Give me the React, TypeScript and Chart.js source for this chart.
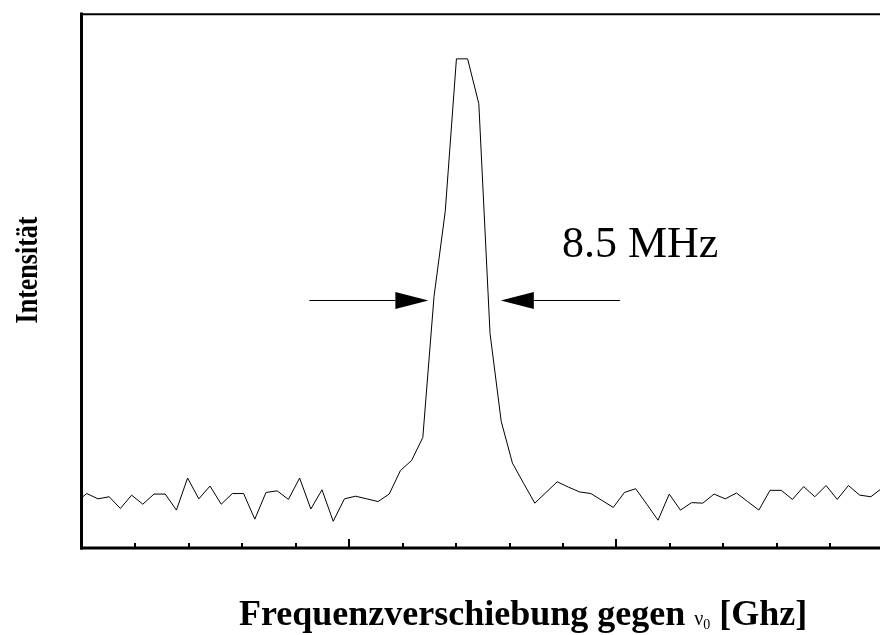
import React, { useEffect, useRef } from "react";
import { Chart, registerables } from "chart.js";

Chart.register(...registerables);

// Sampling grid of the scan (in units of the x-axis minor ticks)
const SAMPLE_FIRST_INDEX = -1;
const SAMPLE_X0 = 0.0898;
const SAMPLE_DX = 0.2096;

// Measured intensity (arbitrary units, 0..100)
const intensity: number[] = [
  8.5, 10.2, 9.2, 9.6, 7.4, 9.9, 8.2, 10.1, 10.1, 7.1, 13.1, 9.2, 11.6, 8.2, 10.2,
  10.2, 5.4, 10.4, 10.7, 9.1, 13.1, 7.3, 10.9, 5.0, 9.2, 9.7, 9.2, 8.7, 10.1, 14.5,
  16.4, 20.7, 47.1, 63.0, 91.6, 91.6, 83.2, 40.2, 23.7, 15.9, 12.1, 8.4, 10.4, 12.4,
  11.4, 10.5, 10.2, 8.9, 7.6, 10.4, 11.1, 8.2, 5.2, 10.1, 7.1, 8.5, 8.4, 10.1, 9.2,
  10.3, 8.7, 7.1, 10.8, 10.8, 9.1, 11.5, 9.6, 11.7, 9.1, 11.7, 9.9, 9.6, 11.2,
];

const xTicks: number[] = [1, 2, 3, 4, 5, 6, 7, 8, 9, 10, 11, 12, 13, 14];
const majorTicks: number[] = [5, 10];

const X_MIN = 0;
const X_MAX = 14.933;
const Y_MIN = 0;
const Y_MAX = 100;

const fwhmLabel = "8.5 MHz";
const fwhmLeft = { from: 4.255, to: 6.482, y: 46.4 };
const fwhmRight = { from: 10.07, to: 7.837, y: 46.4 };
const fwhmLabelPos = { x: 8.98, y: 54.55 };

const yTitle = "Intensität";
const xTitleMain = "Frequenzverschiebung gegen ";
const xTitleSym = "ν";
const xTitleSub = "0";
const xTitleEnd = " [Ghz]";

const SERIF = '"Liberation Serif", "Times New Roman", serif';

const decorPlugin = {
  id: "decor",
  afterDraw(chart: any) {
    const { ctx, chartArea } = chart;
    const xs = chart.scales.x;
    const ys = chart.scales.y;
    const L = chartArea.left;
    const R = chartArea.right;
    const T = chartArea.top;
    const B = chartArea.bottom;
    ctx.save();
    ctx.strokeStyle = "#000";
    ctx.fillStyle = "#000";
    ctx.lineCap = "butt";

    // frame: left, bottom, top
    ctx.lineWidth = 3;
    ctx.beginPath();
    ctx.moveTo(L - 0.5, T - 1.5);
    ctx.lineTo(L - 0.5, B + 1.5);
    ctx.stroke();
    ctx.beginPath();
    ctx.moveTo(L - 2, B);
    ctx.lineTo(R + 2, B);
    ctx.stroke();
    ctx.lineWidth = 2;
    ctx.beginPath();
    ctx.moveTo(L - 2, T + 0.2);
    ctx.lineTo(R + 2, T + 0.2);
    ctx.stroke();

    // inward ticks
    ctx.lineWidth = 2;
    xTicks.forEach((v) => {
      const px = Math.round(xs.getPixelForValue(v));
      const len = majorTicks.includes(v) ? 9 : 5;
      ctx.beginPath();
      ctx.moveTo(px, B);
      ctx.lineTo(px, B - len);
      ctx.stroke();
    });

    // FWHM arrows
    const drawArrow = (from: number, to: number, yv: number) => {
      const x1 = xs.getPixelForValue(from);
      const x2 = xs.getPixelForValue(to);
      const py = Math.round(ys.getPixelForValue(yv)) + 0.5;
      const dir = x2 > x1 ? 1 : -1;
      const headLen = 33;
      const headHalf = 8.5;
      ctx.lineWidth = 1;
      ctx.beginPath();
      ctx.moveTo(x1, py);
      ctx.lineTo(x2 - dir * headLen, py);
      ctx.stroke();
      ctx.beginPath();
      ctx.moveTo(x2, py);
      ctx.lineTo(x2 - dir * headLen, py - headHalf);
      ctx.lineTo(x2 - dir * headLen, py + headHalf);
      ctx.closePath();
      ctx.fill();
    };
    drawArrow(fwhmLeft.from, fwhmLeft.to, fwhmLeft.y);
    drawArrow(fwhmRight.from, fwhmRight.to, fwhmRight.y);

    ctx.font = `44px ${SERIF}`;
    ctx.textAlign = "left";
    ctx.textBaseline = "alphabetic";
    ctx.fillText(
      fwhmLabel,
      xs.getPixelForValue(fwhmLabelPos.x),
      ys.getPixelForValue(fwhmLabelPos.y)
    );

    // x title
    let tx = 239;
    const base = 625;
    ctx.font = `bold 36px ${SERIF}`;
    ctx.fillText(xTitleMain, tx, base);
    tx += ctx.measureText(xTitleMain).width;
    ctx.font = `20px ${SERIF}`;
    ctx.fillText(xTitleSym, tx, base);
    tx += ctx.measureText(xTitleSym).width;
    ctx.font = `14px ${SERIF}`;
    ctx.fillText(xTitleSub, tx, base + 4);
    tx += ctx.measureText(xTitleSub).width;
    ctx.font = `bold 36px ${SERIF}`;
    ctx.fillText(xTitleEnd, tx, base);

    // y title
    ctx.save();
    ctx.translate(37, 270);
    ctx.rotate(-Math.PI / 2);
    ctx.scale(1, 1.2);
    ctx.font = `bold 26px ${SERIF}`;
    ctx.textAlign = "center";
    ctx.fillText(yTitle, 0, 0);
    ctx.restore();

    ctx.restore();
  },
};

export default function App() {
  const canvasRef = useRef<HTMLCanvasElement | null>(null);

  useEffect(() => {
    const canvas = canvasRef.current;
    if (!canvas) return;
    const points = intensity.map((v, i) => ({
      x: SAMPLE_X0 + (i + SAMPLE_FIRST_INDEX) * SAMPLE_DX,
      y: v,
    }));
    const chart = new Chart(canvas, {
      type: "line",
      data: {
        datasets: [
          {
            data: points,
            borderColor: "#000",
            borderWidth: 1,
            pointRadius: 0,
            tension: 0,
            fill: false,
          },
        ],
      },
      options: {
        animation: false,
        responsive: false,
        maintainAspectRatio: false,
        devicePixelRatio: 1,
        layout: { padding: { left: 82, right: 0, top: 14, bottom: 87 } },
        plugins: {
          legend: { display: false },
          tooltip: { enabled: false },
          title: { display: false },
        },
        scales: {
          x: { type: "linear", min: X_MIN, max: X_MAX, display: false },
          y: { type: "linear", min: Y_MIN, max: Y_MAX, display: false },
        },
      },
      plugins: [decorPlugin],
    });
    return () => chart.destroy();
  }, []);

  return (
    <div
      style={{
        position: "fixed",
        left: 0,
        top: 0,
        width: 880,
        height: 635,
        overflow: "hidden",
        background: "#fff",
      }}
    >
      <canvas ref={canvasRef} width={880} height={635} style={{ display: "block" }} />
    </div>
  );
}
